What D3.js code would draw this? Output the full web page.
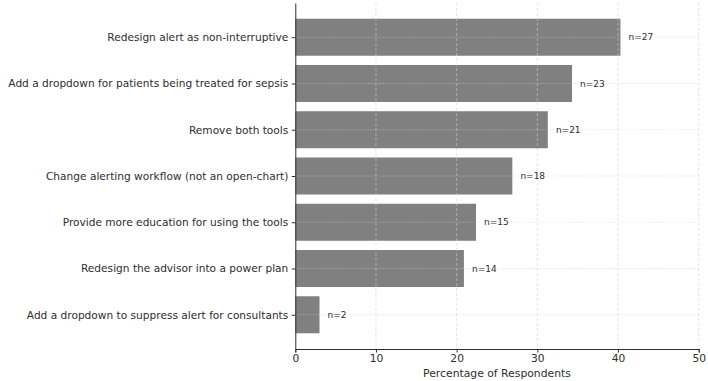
<!DOCTYPE html>
<html><head><meta charset="utf-8">
<script src="https://cdn.jsdelivr.net/npm/d3@7"></script>
<style>body{margin:0;background:#fff}svg{display:block}text{font-family:"DejaVu Sans",sans-serif;fill:#2e2e2e}</style>
</head><body>
<script>
const categories = [
  "Redesign alert as non-interruptive",
  "Add a dropdown for patients being treated for sepsis",
  "Remove both tools",
  "Change alerting workflow (not an open-chart)",
  "Provide more education for using the tools",
  "Redesign the advisor into a power plan",
  "Add a dropdown to suppress alert for consultants"
];
const counts = [27, 23, 21, 18, 15, 14, 2];
const percentages = [40.3, 34.3, 31.3, 26.9, 22.4, 20.9, 3.0];
const xTicks = [0, 10, 20, 30, 40, 50];

const W = 708, H = 381;
const m = {left: 295.3, right: 708 - 698.7, top: 3, bottom: 381 - 349};
const svg = d3.select("body").append("svg").attr("width", W).attr("height", H);

const x = d3.scaleLinear().domain([0, 50]).range([m.left, W - m.right]);
const yIdx = d3.scaleLinear().domain([-0.74, 6.74]).range([m.top, H - m.bottom]);
const bh = yIdx(0.4) - yIdx(-0.4);

// bars
svg.append("g").selectAll("rect").data(percentages).join("rect")
  .attr("x", x(0)).attr("y", (d, i) => yIdx(i) - bh / 2)
  .attr("width", d => x(d) - x(0)).attr("height", bh)
  .attr("fill", "#808080");

// grid on top
const grid = svg.append("g");
grid.selectAll("line.v").data(xTicks.slice(1)).join("line")
  .attr("x1", d => x(d)).attr("x2", d => x(d))
  .attr("y1", m.top).attr("y2", H - m.bottom)
  .attr("stroke", "#d0d0d0").attr("stroke-opacity", 0.7).attr("stroke-width", 0.8)
  .attr("stroke-dasharray", "3,2");
grid.selectAll("line.h").data(categories).join("line")
  .attr("x1", x(0)).attr("x2", W - m.right)
  .attr("y1", (d, i) => yIdx(i)).attr("y2", (d, i) => yIdx(i))
  .attr("stroke", "#d0d0d0").attr("stroke-opacity", 0.7).attr("stroke-width", 0.8)
  .attr("stroke-dasharray", "1,1.5");

// value labels
svg.append("g").selectAll("text").data(counts).join("text")
  .attr("x", (d, i) => x(percentages[i] + 1)).attr("y", (d, i) => yIdx(i))
  .attr("dy", "0.35em").attr("font-size", 9).text(d => "n=" + d);

// x axis
const xAxis = svg.append("g").attr("transform", `translate(0,${H - m.bottom})`)
  .call(d3.axisBottom(x).tickValues(xTicks).tickSize(3.5).tickPadding(2.2));
xAxis.select(".domain").attr("stroke", "#2e2e2e").attr("stroke-width", 1);
xAxis.selectAll(".tick line").attr("stroke", "#2e2e2e");
xAxis.selectAll("text").attr("font-size", 10.7).attr("font-family", "DejaVu Sans").attr("fill", "#2e2e2e");

// y axis
const yAxis = svg.append("g").attr("transform", `translate(${m.left},0)`)
  .call(d3.axisLeft(yIdx).tickValues(d3.range(categories.length)).tickFormat(i => categories[i]).tickSize(3.5).tickPadding(3.5).tickSizeOuter(0));
yAxis.select(".domain").attr("stroke", "#2e2e2e").attr("stroke-width", 1);
yAxis.selectAll(".tick line").attr("stroke", "#2e2e2e");
yAxis.selectAll("text").attr("font-size", 10.6).attr("font-family", "DejaVu Sans").attr("fill", "#2e2e2e");

svg.append("text").attr("x", (x(0) + x(50)) / 2).attr("y", 376.5)
  .attr("text-anchor", "middle").attr("font-size", 10.8).text("Percentage of Respondents");
</script>
</body></html>
